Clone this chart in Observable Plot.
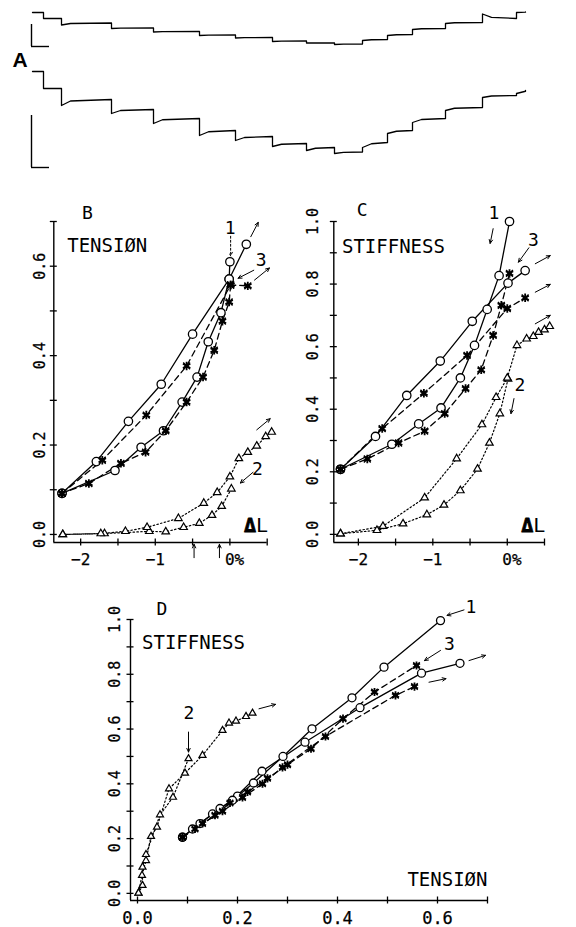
<!DOCTYPE html>
<html><head><meta charset="utf-8">
<script src="https://cdn.jsdelivr.net/npm/d3@7"></script>
<script src="https://cdn.jsdelivr.net/npm/@observablehq/plot@0.6"></script>
<style>
body{margin:0;background:#fff}
#fig{position:relative;width:576px;height:927px;background:#fff;overflow:hidden}
#fig svg{position:absolute;overflow:visible;background:transparent}
</style></head><body><div id="fig"></div>
<script>
// ---------- Panel A: step traces (time in ms, levels in arbitrary units) ----------
const stepTimes = [0, 11, 29, 79, 121, 167, 203, 240, 274, 302, 330, 355, 380, 413, 450, 484, 493];
const tensionStart = [168, 162, 155.5, 152, 148.5, 145, 142.5, 139, 137.5, 136, 140, 145, 151, 157, 166.5, 168];
const tensionEnd   = [168, 162, 157.5, 152.5, 149, 145.5, 143, 139.5, 137.5, 136.5, 141, 146, 152, 158, 162, 168.5];
const stiffStart   = [109, 92, 75, 67, 57, 45, 40, 34, 30, 27, 33, 47, 58, 70, 83, 87];
const stiffEnd     = [109, 92, 81, 71, 62, 50, 44, 37, 33, 28.5, 38, 50, 62, 73, 85, 90];
const barTimes = [-1, 17];
const topBarLevels = [156, 134];
const botBarLevels = [65, 13];

// ---------- Panel B: tension vs ΔL (%) ----------
const bCircShortX = [0.0, -0.01, -0.12, -0.29, -0.44, -0.64, -0.89, -1.19, -1.54, -2.25];
const bCircShortY = [0.61, 0.571, 0.496, 0.431, 0.352, 0.296, 0.232, 0.195, 0.143, 0.092];
const bCircLongX  = [-2.25, -1.79, -1.36, -0.92, -0.50, -0.01, 0.22];
const bCircLongY  = [0.092, 0.163, 0.253, 0.336, 0.448, 0.571, 0.649];
const bStarShortX = [0.01, -0.01, -0.10, -0.21, -0.36, -0.58, -0.86, -1.13, -1.46, -1.89, -2.25];
const bStarShortY = [0.558, 0.520, 0.477, 0.412, 0.352, 0.296, 0.232, 0.184, 0.159, 0.114, 0.092];
const bStarLongX  = [-2.25, -1.71, -1.12, -0.58, 0.01, 0.24];
const bStarLongY  = [0.092, 0.166, 0.267, 0.377, 0.558, 0.556];
const bTriShortX  = [0.02, -0.11, -0.24, -0.41, -0.62, -0.86, -1.08, -1.68, -2.24];
const bTriShortY  = [0.102, 0.063, 0.043, 0.025, 0.016, 0.006, 0.007, 0.002, 0.0];
const bTriLongX   = [-2.24, -1.73, -1.40, -1.11, -0.69, -0.35, -0.17, 0.0, 0.12, 0.24, 0.36, 0.48, 0.56];
const bTriLongY   = [0.0, 0.002, 0.007, 0.016, 0.036, 0.070, 0.094, 0.129, 0.170, 0.184, 0.198, 0.219, 0.229];

// ---------- Panel C: stiffness vs ΔL (%) ----------
const cCircShortX = [0.03, -0.11, -0.27, -0.44, -0.63, -0.89, -1.19, -1.55, -2.24];
const cCircShortY = [1.0, 0.827, 0.719, 0.604, 0.5, 0.404, 0.353, 0.288, 0.208];
const cCircLongX  = [-2.24, -1.77, -1.35, -0.90, -0.47, 0.01, 0.24];
const cCircLongY  = [0.208, 0.313, 0.444, 0.554, 0.681, 0.803, 0.843];
const cStarShortX = [0.03, -0.08, -0.19, -0.35, -0.56, -0.84, -1.11, -1.46, -1.88, -2.24];
const cStarShortY = [0.834, 0.732, 0.636, 0.526, 0.466, 0.386, 0.330, 0.292, 0.241, 0.208];
const cStarLongX  = [-2.24, -1.68, -1.12, -0.54, 0.0, 0.24];
const cStarLongY  = [0.208, 0.338, 0.451, 0.572, 0.722, 0.756];
const cTriShortX  = [0.01, -0.10, -0.24, -0.40, -0.63, -0.85, -1.08, -1.40, -1.75, -2.24];
const cTriShortY  = [0.497, 0.386, 0.292, 0.209, 0.140, 0.094, 0.063, 0.034, 0.013, 0.002];
const cTriLongX   = [-2.24, -1.67, -1.11, -0.68, -0.34, -0.15, 0.0, 0.13, 0.26, 0.35, 0.42, 0.50, 0.57];
const cTriLongY   = [0.002, 0.026, 0.117, 0.242, 0.351, 0.438, 0.5, 0.604, 0.625, 0.633, 0.646, 0.654, 0.665];

// ---------- Panel D: stiffness vs tension ----------
const dCircAX = [0.09, 0.125, 0.165, 0.20, 0.232, 0.291, 0.349, 0.429, 0.493, 0.606];
const dCircAY = [0.205, 0.255, 0.31, 0.355, 0.403, 0.5, 0.601, 0.714, 0.826, 0.996];
const dCircBX = [0.09, 0.11, 0.15, 0.19, 0.249, 0.335, 0.445, 0.568, 0.645];
const dCircBY = [0.205, 0.235, 0.29, 0.34, 0.446, 0.552, 0.678, 0.804, 0.84];
const dStarAX = [0.09, 0.115, 0.155, 0.185, 0.22, 0.26, 0.30, 0.347, 0.411, 0.474, 0.558];
const dStarAY = [0.205, 0.235, 0.285, 0.33, 0.37, 0.42, 0.47, 0.528, 0.638, 0.735, 0.832];
const dStarBX = [0.09, 0.13, 0.17, 0.21, 0.25, 0.29, 0.376, 0.516, 0.554];
const dStarBY = [0.205, 0.255, 0.30, 0.35, 0.40, 0.46, 0.573, 0.723, 0.755];
const dTriAX  = [0.102, 0.071, 0.045, 0.017, 0.01, 0.01, 0.002];
const dTriAY  = [0.492, 0.351, 0.287, 0.142, 0.096, 0.029, 0.001];
const dTriBX  = [0.002, 0.009, 0.017, 0.027, 0.039, 0.063, 0.095, 0.13, 0.17, 0.183, 0.197, 0.217, 0.23];
const dTriBY  = [0.001, 0.066, 0.12, 0.208, 0.242, 0.382, 0.439, 0.504, 0.595, 0.622, 0.629, 0.646, 0.658];

// ---------- ticks ----------
const dLTicks = [-2, -1.5, -1, -0.5, 0, 0.5];
const dLLabels = [-2, -1];
const bYTicks = [0, 0.1, 0.2, 0.3, 0.4, 0.5, 0.6, 0.7];
const bYLabels = [0, 0.2, 0.4, 0.6];
const unitTicks = [0, 0.1, 0.2, 0.3, 0.4, 0.5, 0.6, 0.7, 0.8, 0.9, 1.0];
const unitLabels = [0, 0.2, 0.4, 0.6, 0.8, 1.0];
const dXTicks = [0, 0.1, 0.2, 0.3, 0.4, 0.5, 0.6, 0.7];
const dXLabels = [0, 0.2, 0.4, 0.6];

const FONT = "DejaVu Sans Mono";
const fig = document.getElementById("fig");
const st = {background: "transparent", overflow: "visible", fontFamily: FONT, color: "black"};
const pts = (xs, ys) => xs.map((x, i) => ({x, y: ys[i]}));
function place(svg, left, top) { svg.style.left = left + "px"; svg.style.top = top + "px"; fig.appendChild(svg); }

function axes(X0, Y0, xEnd, yEnd, xTicks, yTicks) {
  return [
    Plot.ruleX([X0], {y1: Y0, y2: yEnd, stroke: "black", strokeWidth: 1.4}),
    Plot.ruleY([Y0], {x1: X0, x2: xEnd, stroke: "black", strokeWidth: 1.4}),
    Plot.ruleY(yTicks, {y: d => d, x1: X0, x2: X0, insetLeft: -3.5, insetRight: -3.5, stroke: "black", strokeWidth: 1.3}),
    Plot.ruleX(xTicks, {x: d => d, y1: Y0, y2: Y0, insetTop: -3.5, insetBottom: -3.5, stroke: "black", strokeWidth: 1.3})
  ];
}
function circles(data) {
  return [Plot.line(data, {x: "x", y: "y", stroke: "black", strokeWidth: 1.3})];
}
function circDots(data, r = 4.2) {
  return [Plot.dot(data, {x: "x", y: "y", r, fill: "white", stroke: "black", strokeWidth: 1.3})];
}
function starLine(data) {
  return [Plot.line(data, {x: "x", y: "y", stroke: "black", strokeWidth: 1.3, strokeDasharray: "6,4"})];
}
function starDots(data, r = 4) {
  return [
    Plot.dot(data, {x: "x", y: "y", symbol: "asterisk", r, stroke: "black", strokeWidth: 1.8}),
    Plot.dot(data, {x: "x", y: "y", symbol: "times", r: r * 0.8, stroke: "black", strokeWidth: 1.4}),
    Plot.dot(data, {x: "x", y: "y", r: 2.2, fill: "black"})
  ];
}
function triLine(data) {
  return [Plot.line(data, {x: "x", y: "y", stroke: "black", strokeWidth: 1.2, strokeDasharray: "1.5,2.3"})];
}
function triDots(data, r = 2.8) {
  return [Plot.dot(data, {x: "x", y: "y", symbol: "triangle", r, fill: "white", stroke: "black", strokeWidth: 1.2})];
}
function arrows(list, dash) {
  return Plot.arrow(list, {x1: "x1", y1: "y1", x2: "x2", y2: "y2", stroke: "black", strokeWidth: 1, headLength: 6, headAngle: 50, strokeDasharray: dash});
}
function label(x, y, text, opts = {}) {
  return Plot.text([{x, y, t: text}], {x: "x", y: "y", text: "t", fontFamily: FONT, fontSize: 18, fill: "black", ...opts});
}
const tickFont = {fontFamily: FONT, fill: "black", stroke: "black", strokeWidth: 0.25};

// ---------- Panel A ----------
function tracePoints(start, end) {
  const out = [];
  start.forEach((s, i) => {
    const t0 = stepTimes[i], t1 = stepTimes[i + 1];
    out.push({t: t0, v: s});
    out.push({t: Math.min(t0 + 9, t1), v: end[i] + (s - end[i]) * 0.25});
    out.push({t: t1, v: end[i]});
  });
  return out;
}
const svgA = Plot.plot({
  width: 576, height: 180, marginLeft: 32, marginRight: 51, marginTop: 0, marginBottom: 0,
  x: {domain: [0, 493], axis: null}, y: {domain: [0, 180], axis: null}, style: st,
  marks: [
    Plot.line(tracePoints(tensionStart, tensionEnd), {x: "t", y: "v", stroke: "black", strokeWidth: 1.3}),
    Plot.line(tracePoints(stiffStart, stiffEnd), {x: "t", y: "v", stroke: "black", strokeWidth: 1.3}),
    Plot.ruleX([barTimes[0]], {y1: topBarLevels[0], y2: topBarLevels[1], stroke: "black", strokeWidth: 1.4}),
    Plot.ruleY([topBarLevels[1]], {x1: barTimes[0], x2: barTimes[1], stroke: "black", strokeWidth: 1.4}),
    Plot.ruleX([barTimes[0]], {y1: botBarLevels[0], y2: botBarLevels[1], stroke: "black", strokeWidth: 1.4}),
    Plot.ruleY([botBarLevels[1]], {x1: barTimes[0], x2: barTimes[1], stroke: "black", strokeWidth: 1.4}),
    Plot.text([{x: -12.5, y: 120, t: "A"}], {x: "x", y: "y", text: "t", fontFamily: "Liberation Sans", fontWeight: "bold", fontSize: 21, fill: "black"})
  ]
});
place(svgA, 0, 0);

// ---------- Panel B ----------
const bX0 = -2.36, bY0 = -0.018;
const svgB = Plot.plot({
  width: 290, height: 390, marginLeft: 53.3, marginRight: 23.3, marginTop: 31, marginBottom: 38,
  x: {domain: [bX0, 0.5], axis: null}, y: {domain: [bY0, 0.7], axis: null}, style: st,
  marks: [
    ...axes(bX0, bY0, 0.5, 0.7, dLTicks, bYTicks),
    Plot.text(bYLabels, {x: bX0, y: d => d, text: d => d.toFixed(1), rotate: -90, dx: -14, fontSize: 15, ...tickFont}),
    Plot.text(dLLabels, {x: d => d, y: bY0, text: d => "\u2212" + Math.abs(d), dy: 17, fontSize: 16, ...tickFont}),
    Plot.text([0], {x: d => d, y: bY0, text: () => "0%", textAnchor: "start", dx: -5, dy: 17, fontSize: 16, ...tickFont}),
    ...triLine(pts(bTriShortX, bTriShortY)), ...triLine(pts(bTriLongX, bTriLongY)),
    ...starLine(pts(bStarShortX, bStarShortY)), ...starLine(pts(bStarLongX, bStarLongY)),
    ...circles(pts(bCircShortX, bCircShortY)), ...circles(pts(bCircLongX, bCircLongY)),
    ...circDots(pts(bCircShortX, bCircShortY)), ...circDots(pts(bCircLongX, bCircLongY)),
    ...starDots(pts(bStarShortX, bStarShortY)), ...starDots(pts(bStarLongX, bStarLongY)),
    ...triDots(pts(bTriShortX, bTriShortY)), ...triDots(pts(bTriLongX, bTriLongY)),
    arrows([{x1: 0.01, y1: 0.667, x2: 0.01, y2: 0.623}], "2,2"),
    arrows([
      {x1: 0.28, y1: 0.666, x2: 0.38, y2: 0.698},
      {x1: 0.32, y1: 0.591, x2: 0.11, y2: 0.573},
      {x1: 0.33, y1: 0.569, x2: 0.53, y2: 0.596},
      {x1: 0.31, y1: 0.139, x2: 0.14, y2: 0.115},
      {x1: 0.36, y1: 0.234, x2: 0.54, y2: 0.259},
      {x1: -0.48, y1: -0.052, x2: -0.48, y2: -0.022},
      {x1: -0.14, y1: -0.052, x2: -0.14, y2: -0.022}
    ]),
    label(0.004, 0.685, "1"), label(0.42, 0.614, "3"), label(0.37, 0.146, "2"),
    label(-1.91, 0.718, "B"),
    label(-2.18, 0.646, "TENSIØN", {textAnchor: "start", fontSize: 19}),
    label(0.51, 0.02, "L", {textAnchor: "end", fontSize: 20}),
    label(0.51, 0.02, "Δ", {textAnchor: "end", fontSize: 20, fontWeight: "bold", dx: -12, stroke: "black", strokeWidth: 0.8})
  ]
});
place(svgB, 0, 190);

// ---------- Panel C ----------
const cX0 = -2.33, cY0 = -0.026;
const svgC = Plot.plot({
  width: 286, height: 390, marginLeft: 43.3, marginRight: 32, marginTop: 31, marginBottom: 38,
  x: {domain: [cX0, 0.5], axis: null}, y: {domain: [cY0, 1.0], axis: null}, style: st,
  marks: [
    ...axes(cX0, cY0, 0.5, 1.0, dLTicks, unitTicks),
    Plot.text(unitLabels, {x: cX0, y: d => d, text: d => d.toFixed(1), rotate: -90, dx: -21, fontSize: 15, ...tickFont}),
    Plot.text(dLLabels, {x: d => d, y: cY0, text: d => "\u2212" + Math.abs(d), dy: 17, fontSize: 16, ...tickFont}),
    Plot.text([0], {x: d => d, y: cY0, text: () => "0%", textAnchor: "start", dx: -5, dy: 17, fontSize: 16, ...tickFont}),
    ...triLine(pts(cTriShortX, cTriShortY)), ...triLine(pts(cTriLongX, cTriLongY)),
    ...starLine(pts(cStarShortX, cStarShortY)), ...starLine(pts(cStarLongX, cStarLongY)),
    ...circles(pts(cCircShortX, cCircShortY)), ...circles(pts(cCircLongX, cCircLongY)),
    ...circDots(pts(cCircShortX, cCircShortY)), ...circDots(pts(cCircLongX, cCircLongY)),
    ...starDots(pts(cStarShortX, cStarShortY)), ...starDots(pts(cStarLongX, cStarLongY)),
    ...triDots(pts(cTriShortX, cTriShortY)), ...triDots(pts(cTriLongX, cTriLongY)),
    arrows([
      {x1: -0.19, y1: 0.977, x2: -0.23, y2: 0.930},
      {x1: 0.29, y1: 0.916, x2: 0.15, y2: 0.87},
      {x1: 0.376, y1: 0.865, x2: 0.577, y2: 0.891},
      {x1: 0.376, y1: 0.774, x2: 0.577, y2: 0.799},
      {x1: 0.376, y1: 0.673, x2: 0.577, y2: 0.70},
      {x1: 0.09, y1: 0.434, x2: 0.05, y2: 0.386}
    ]),
    label(-0.18, 1.025, "1"), label(0.35, 0.939, "3"), label(0.17, 0.476, "2"),
    label(-1.95, 1.035, "C"),
    label(-2.22, 0.919, "STIFFNESS", {textAnchor: "start", fontSize: 19}),
    label(0.51, 0.029, "L", {textAnchor: "end", fontSize: 20}),
    label(0.51, 0.029, "Δ", {textAnchor: "end", fontSize: 20, fontWeight: "bold", dx: -12, stroke: "black", strokeWidth: 0.8})
  ]
});
place(svgC, 290, 190);

// ---------- Panel D ----------
const dX0 = -0.014, dY0 = -0.026;
const svgD = Plot.plot({
  width: 576, height: 337, marginLeft: 130, marginRight: 89, marginTop: 29, marginBottom: 27,
  x: {domain: [dX0, 0.7], axis: null}, y: {domain: [dY0, 1.0], axis: null}, style: st,
  marks: [
    ...axes(dX0, dY0, 0.7, 1.0, dXTicks, unitTicks),
    Plot.text(unitLabels, {x: dX0, y: d => d, text: d => d.toFixed(1), rotate: -90, dx: -15.5, fontSize: 15, ...tickFont}),
    Plot.text(dXLabels, {x: d => d, y: dY0, text: d => d.toFixed(1), dy: 18, fontSize: 17, ...tickFont}),
    ...triLine(pts(dTriAX, dTriAY)), ...triLine(pts(dTriBX, dTriBY)),
    ...starLine(pts(dStarAX, dStarAY)), ...starLine(pts(dStarBX, dStarBY)),
    ...circles(pts(dCircAX, dCircAY)), ...circles(pts(dCircBX, dCircBY)),
    ...circDots(pts(dCircAX, dCircAY), 4), ...circDots(pts(dCircBX, dCircBY), 4),
    ...starDots(pts(dStarAX, dStarAY), 3.8), ...starDots(pts(dStarBX, dStarBY), 3.8),
    ...triDots(pts(dTriAX, dTriAY), 2.6), ...triDots(pts(dTriBX, dTriBY), 2.6),
    arrows([
      {x1: 0.653, y1: 1.035, x2: 0.619, y2: 1.015},
      {x1: 0.606, y1: 0.887, x2: 0.574, y2: 0.850},
      {x1: 0.663, y1: 0.850, x2: 0.696, y2: 0.869},
      {x1: 0.583, y1: 0.771, x2: 0.617, y2: 0.784},
      {x1: 0.243, y1: 0.674, x2: 0.276, y2: 0.69},
      {x1: 0.102, y1: 0.589, x2: 0.102, y2: 0.516}
    ]),
    label(0.667, 1.045, "1"), label(0.624, 0.911, "3"), label(0.103, 0.656, "2"),
    label(0.049, 1.036, "D"),
    label(0.009, 0.914, "STIFFNESS", {textAnchor: "start", fontSize: 19}),
    label(0.70, 0.049, "TENSIØN", {textAnchor: "end", fontSize: 19})
  ]
});
place(svgD, 0, 590);
</script></body></html>
